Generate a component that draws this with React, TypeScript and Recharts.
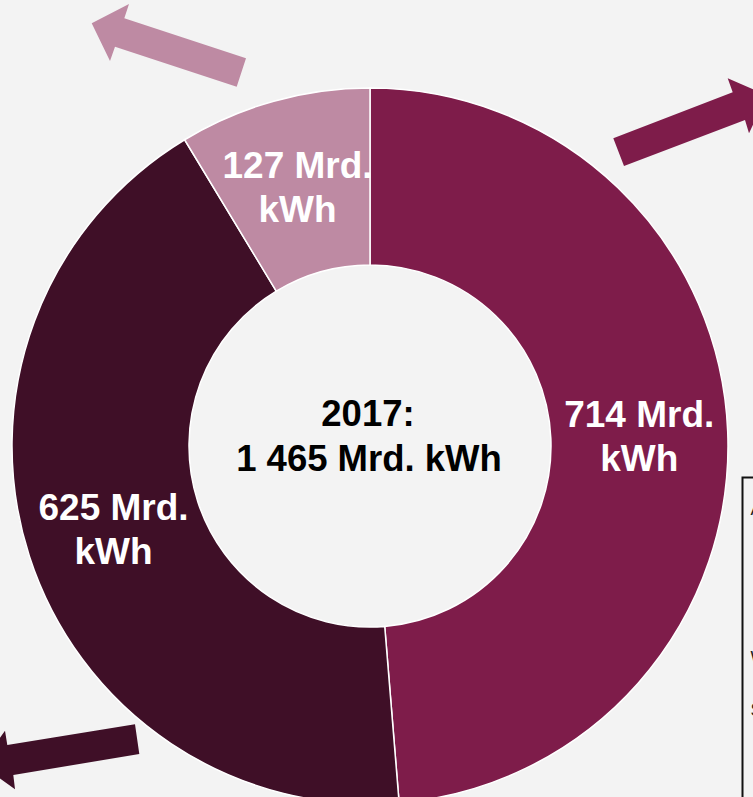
import { PieChart, Pie, Cell } from 'recharts';

// Stromverbrauch 2017, Mrd. kWh
const segments = ['A', 'B', 'C'];
const values = [714, 625, 127];
const colors = ['#7E1C4A', '#3F0F27', '#BE8AA3'];
const unitLine1 = 'Mrd.';
const unitLine2 = 'kWh';
const centerLines = ['2017:', '1 465 Mrd. kWh'];
const boxLetters = ['A', 'W', 'S'];

const chartData = segments.map((name, i) => ({ name, value: values[i] }));

const W = 753;
const H = 797;
const BG = '#F3F3F3';
const FONT = '"Liberation Sans", Arial, sans-serif';
const RAD = Math.PI / 180;

// decorative arrows around the ring
const arrows = [
    { fill: '#BE8AA3', points: '91.7,23.3 129,4 124.3,18.3 246,58.3 236.7,86.7 115,46.7 110,61' },
    { fill: '#7E1C4A', points: '613.3,138.3 732.7,92.3 727.7,78.3 766.8,95.4 749,133.3 745,120 624,166' },
    { fill: '#3F0F27', points: '135,724.3 139.3,754 13.3,775 15,789.3 -19.3,764.8 5,730.7 7.3,745' },
];

const boxLetterY = [515, 664, 716];

function SliceLabel(props: any) {
    const { cx, cy, midAngle, innerRadius, outerRadius, value } = props;
    const r = (innerRadius + outerRadius) / 2;
    const x = cx + r * Math.cos(-midAngle * RAD);
    const y = cy + r * Math.sin(-midAngle * RAD);
    return (
        <text x={x} textAnchor="middle" fill="#FFFFFF" fontFamily={FONT} fontWeight="bold" fontSize={37}>
            <tspan x={x} y={y - 8.5}>{`${value} ${unitLine1}`}</tspan>
            <tspan x={x} y={y + 35.5}>{unitLine2}</tspan>
        </text>
    );
}

export default function App() {
    return (
        <div style={{ position: 'absolute', left: 0, top: 0, width: W, height: H, background: BG, overflow: 'hidden' }}>
            <svg width={W} height={H} style={{ position: 'absolute', left: 0, top: 0 }}>
                {arrows.map((a, i) => (
                    <polygon key={i} points={a.points} fill={a.fill} />
                ))}
                <rect x={742.5} y={477.5} width={60} height={400} fill="none" stroke="#111" strokeWidth={2} />
                {boxLetters.map((l, i) => (
                    <text key={l} x={750.5} y={boxLetterY[i]} fontFamily={FONT} fontSize={18} fill="#222">
                        {l}
                    </text>
                ))}
            </svg>
            <div style={{ position: 'absolute', left: 0, top: 0 }}>
                <PieChart width={W} height={H} margin={{ top: 0, right: 0, bottom: 0, left: 0 }}>
                    <Pie
                        data={chartData}
                        dataKey="value"
                        nameKey="name"
                        cx={370}
                        cy={446}
                        innerRadius={181}
                        outerRadius={358}
                        startAngle={90}
                        endAngle={-270}
                        stroke="#FFFFFF"
                        strokeWidth={1.5}
                        label={SliceLabel}
                        labelLine={false}
                        isAnimationActive={false}
                    >
                        {chartData.map((d, i) => (
                            <Cell key={d.name} fill={colors[i]} />
                        ))}
                    </Pie>
                    <text x={368} textAnchor="middle" fill="#000000" fontFamily={FONT} fontWeight="bold" fontSize={36.5}>
                        <tspan x={368} y={425.7}>{centerLines[0]}</tspan>
                        <tspan x={369} y={471}>{centerLines[1]}</tspan>
                    </text>
                </PieChart>
            </div>
        </div>
    );
}
